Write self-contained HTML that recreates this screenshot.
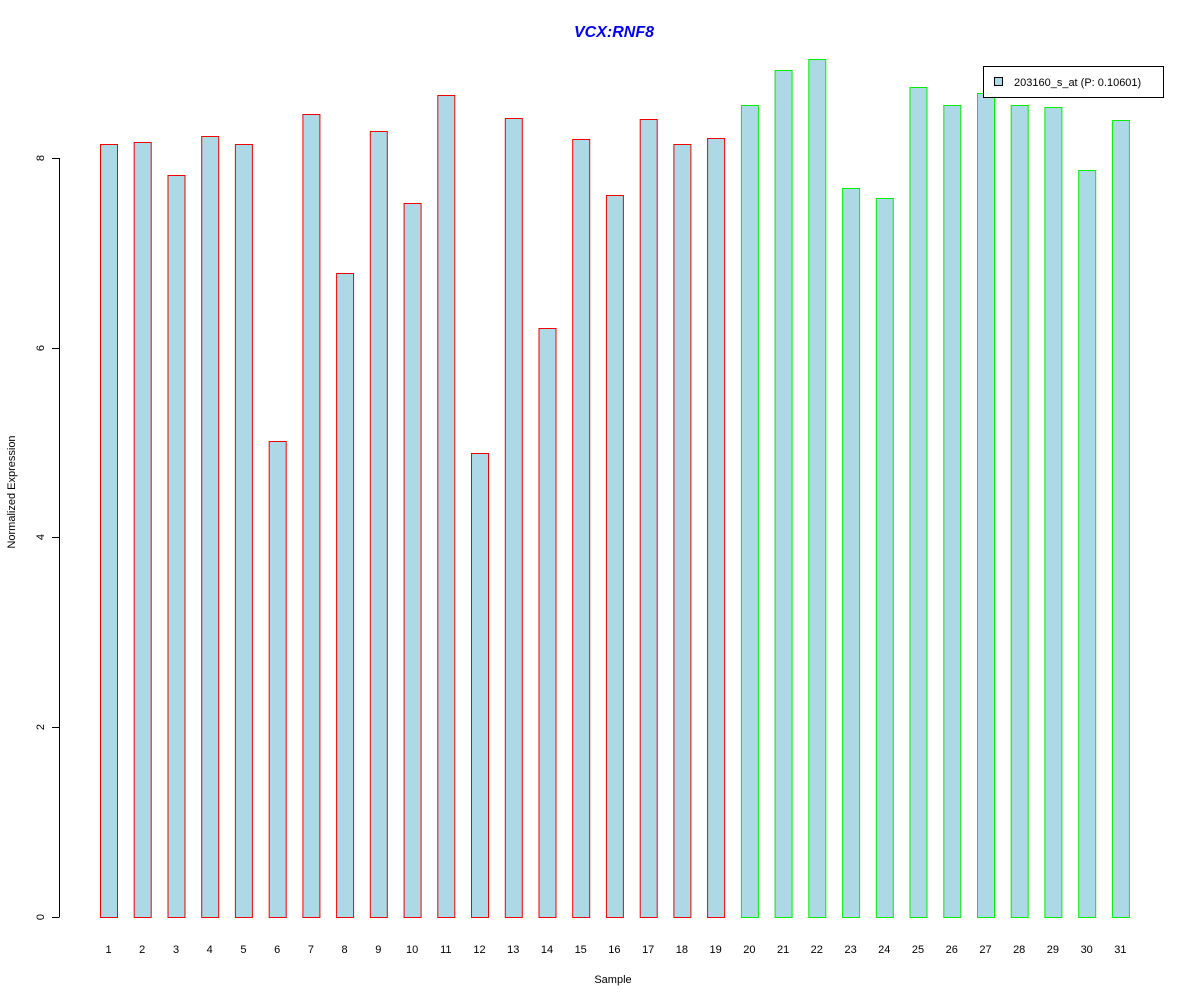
<!DOCTYPE html>
<html><head><style>body{margin:0;background:#fff}</style></head><body>
<svg width="1200" height="1000" xmlns="http://www.w3.org/2000/svg" font-family="Liberation Sans, sans-serif">
<rect width="1200" height="1000" fill="#fff"/>
<text x="614" y="37" text-anchor="middle" font-size="16" font-weight="bold" font-style="italic" fill="#0000ee">VCX:RNF8</text>
<g stroke="#000" stroke-width="1">
<line x1="59.5" y1="158" x2="59.5" y2="917"/>
<line x1="52" y1="917.5" x2="59.5" y2="917.5"/>
<line x1="52" y1="727.5" x2="59.5" y2="727.5"/>
<line x1="52" y1="537.5" x2="59.5" y2="537.5"/>
<line x1="52" y1="348.5" x2="59.5" y2="348.5"/>
<line x1="52" y1="158.5" x2="59.5" y2="158.5"/>
</g>
<g font-size="11" text-anchor="middle">
<text transform="translate(44,917) rotate(-90)">0</text>
<text transform="translate(44,727) rotate(-90)">2</text>
<text transform="translate(44,537) rotate(-90)">4</text>
<text transform="translate(44,348) rotate(-90)">6</text>
<text transform="translate(44,158) rotate(-90)">8</text>
<text transform="translate(15,492) rotate(-90)">Normalized Expression</text>
<text x="613" y="983">Sample</text>
</g>
<g fill="#add8e6" stroke="#ee0000">
<rect x="100.5" y="144.5" width="17" height="773"/>
<rect x="134.2" y="142.5" width="17" height="775"/>
<rect x="168" y="175.5" width="17" height="742"/>
<rect x="201.7" y="136.5" width="17" height="781"/>
<rect x="235.4" y="144.5" width="17" height="773"/>
<rect x="269.2" y="441.5" width="17" height="476"/>
<rect x="302.9" y="114.5" width="17" height="803"/>
<rect x="336.6" y="273.5" width="17" height="644"/>
<rect x="370.3" y="131.5" width="17" height="786"/>
<rect x="404.1" y="203.5" width="17" height="714"/>
<rect x="437.8" y="95.5" width="17" height="822"/>
<rect x="471.5" y="453.5" width="17" height="464"/>
<rect x="505.3" y="118.5" width="17" height="799"/>
<rect x="539" y="328.5" width="17" height="589"/>
<rect x="572.7" y="139.5" width="17" height="778"/>
<rect x="606.4" y="195.5" width="17" height="722"/>
<rect x="640.2" y="119.5" width="17" height="798"/>
<rect x="673.9" y="144.5" width="17" height="773"/>
<rect x="707.6" y="138.5" width="17" height="779"/>
</g>
<g fill="#add8e6" stroke="#00ee00">
<rect x="741.4" y="105.5" width="17" height="812"/>
<rect x="775.1" y="70.5" width="17" height="847"/>
<rect x="808.8" y="59.5" width="17" height="858"/>
<rect x="842.6" y="188.5" width="17" height="729"/>
<rect x="876.3" y="198.5" width="17" height="719"/>
<rect x="910" y="87.5" width="17" height="830"/>
<rect x="943.8" y="105.5" width="17" height="812"/>
<rect x="977.5" y="93.5" width="17" height="824"/>
<rect x="1011.2" y="105.5" width="17" height="812"/>
<rect x="1044.9" y="107.5" width="17" height="810"/>
<rect x="1078.7" y="170.5" width="17" height="747"/>
<rect x="1112.4" y="120.5" width="17" height="797"/>
</g>
<g font-size="11" text-anchor="middle">
<text x="108.5" y="953">1</text><text x="142.2" y="953">2</text><text x="176" y="953">3</text><text x="209.7" y="953">4</text><text x="243.4" y="953">5</text><text x="277.2" y="953">6</text><text x="310.9" y="953">7</text><text x="344.6" y="953">8</text><text x="378.3" y="953">9</text><text x="412.1" y="953">10</text><text x="445.8" y="953">11</text><text x="479.5" y="953">12</text><text x="513.3" y="953">13</text><text x="547" y="953">14</text><text x="580.7" y="953">15</text><text x="614.4" y="953">16</text><text x="648.2" y="953">17</text><text x="681.9" y="953">18</text><text x="715.6" y="953">19</text><text x="749.4" y="953">20</text><text x="783.1" y="953">21</text><text x="816.8" y="953">22</text><text x="850.6" y="953">23</text><text x="884.3" y="953">24</text><text x="918" y="953">25</text><text x="951.8" y="953">26</text><text x="985.5" y="953">27</text><text x="1019.2" y="953">28</text><text x="1052.9" y="953">29</text><text x="1086.7" y="953">30</text><text x="1120.4" y="953">31</text>
</g>
<rect x="983.5" y="66.5" width="180" height="31" fill="#fff" stroke="#000"/>
<rect x="994.5" y="77.5" width="8" height="8" fill="#add8e6" stroke="#000"/>
<text x="1014" y="86" font-size="11">203160_s_at (P: 0.10601)</text>
</svg>
</body></html>
